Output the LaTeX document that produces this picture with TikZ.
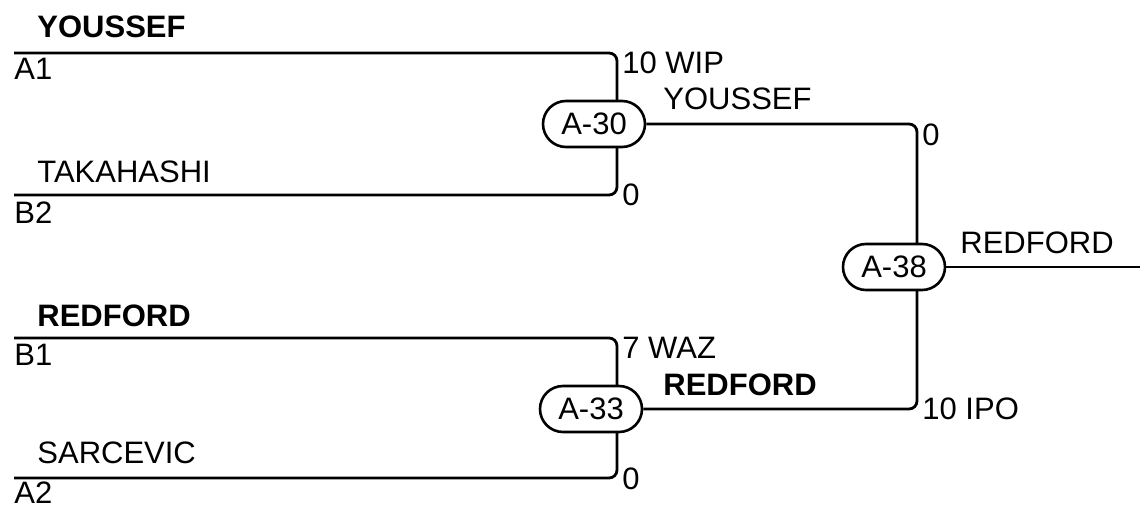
\documentclass[tikz,border=0pt]{standalone}
\usepackage{fontspec}
\setmainfont{Liberation Sans}
\usetikzlibrary{calc, shapes.misc}
\tikzset{
  link/.style={line width=1.4pt, rounded corners=4pt},
  match/.style={rounded rectangle, draw, line width=1.3pt, fill=white,
    minimum width=53pt, minimum height=23pt, inner sep=1pt},
  lbl/.style={anchor=base west, inner sep=0pt},
  win/.style={lbl, font=\fontsize{15.5}{18}\selectfont\bfseries}
}

\begin{document}
\begin{tikzpicture}[x=0.5pt, y=-0.5pt, font=\fontsize{15.5}{18}\selectfont]
\useasboundingbox (0,0) rectangle (1140,507);
% entry lines
\coordinate (a1) at (14,53);
\coordinate (b2) at (14,195);
\coordinate (b1) at (14,338);
\coordinate (a2) at (14,478);
\coordinate (j30) at (617,124);
\coordinate (j33) at (617,409);
\coordinate (j38) at (917,267);
\coordinate (out) at (1140,267);
\draw[link] (a1) -| (j30);
\draw[link] (b2) -| (j30);
\draw[link] (b1) -| (j33);
\draw[link] (a2) -| (j33);
% matches
\node[match] (m30) at (594,124) {A-30};
\node[match] (m33) at (591,409) {A-33};
\draw[link] (m30.east) -| (j38);
\draw[link] (m33.east) -| (j38);
\node[match] (m38) at (894,267) {A-38};
\draw[link] (m38.east) -- (out);
% names and seeds
\node[win] (n1) at (37,38) {YOUSSEF};
\node[lbl] (s1) at (14,80) {A1};
\node[lbl] (n2) at (37,183) {TAKAHASHI};
\node[lbl] (s2) at (14,224) {B2};
\node[win] (n3) at (37,327) {REDFORD};
\node[lbl] (s3) at (14,366) {B1};
\node[lbl] (n4) at (37,464) {SARCEVIC};
\node[lbl] (s4) at (14,503) {A2};
% scores
\node[lbl] (c1) at (622,74) {10 WIP};
\node[lbl] (c2) at (622,206) {0};
\node[lbl] (c3) at (622,359) {7 WAZ};
\node[lbl] (c4) at (622,489) {0};
\node[lbl] (c5) at (922,146) {0};
\node[lbl] (c6) at (922,420) {10 IPO};
% winners
\node[lbl] (w30) at (663,110) {YOUSSEF};
\node[win] (w33) at (663,395) {REDFORD};
\node[lbl] (w38) at (960,254) {REDFORD};
\end{tikzpicture}
\end{document}
